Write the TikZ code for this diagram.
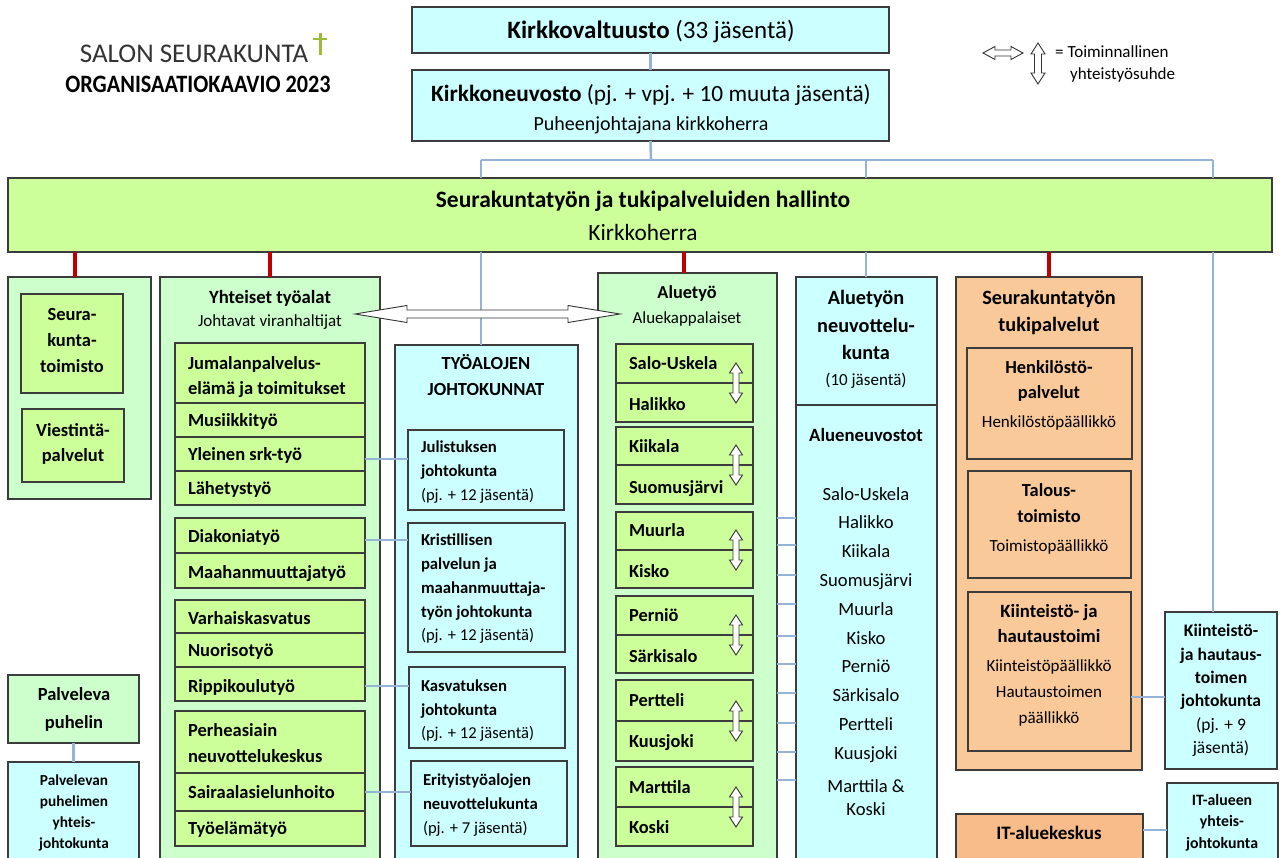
\documentclass[tikz,border=0pt]{standalone}
\usepackage{fontspec}
\setmainfont{Carlito}
\definecolor{cy}{HTML}{CCFFFF}
\definecolor{lime}{HTML}{CCFF99}
\definecolor{lgreen}{HTML}{CCFFCC}
\definecolor{orng}{HTML}{F9C99A}
\definecolor{orng2}{HTML}{F7BC8A}
\definecolor{bl}{HTML}{95B3D7}
\definecolor{rd}{HTML}{C00000}
\definecolor{bd}{HTML}{3C3C3C}
\definecolor{crossg}{HTML}{9BBB3B}
\newcommand\fs[1]{\fontsize{#1}{#1}\selectfont}
\tikzset{
 box/.style={draw=bd, line width=1.3pt, inner sep=0pt, outer sep=0pt, anchor=north west},
 bline/.style={draw=bl, line width=2.6pt},
 rline/.style={draw=rd, line width=4.5pt},
 bf/.style={execute at begin node=\bfseries},
 lft/.style={anchor=base west},
 arr/.style={draw=black!80, fill=white, line width=0.9pt, line join=miter}
}
% box: [opts]{name}{x1}{y1}{x2}{y2}
\newcommand\bx[6][]{\node[box,minimum width={#5-#3}, minimum height={#6-#4}, #1] (#2) at (#3,#4) {};}
% multi-line text: [opts]{name}{x}{y of first line centre}{line step}{size}{list}
\newcommand\ml[7][]{\foreach \t [count=\i] in {#7} {\node[inner sep=0pt, outer sep=0pt, anchor=base, font=\fs{#6}, #1] (#2\i) at (#3,{#4+(\i-1)*#5+0.33*#6}) {\t};}}
% horizontal double arrow: x1 x2 y halfbody halfhead headlen
\newcommand\harr[6]{\draw[arr] (#1,#3) -- ({#1+#6},{#3-#5}) -- ({#1+#6},{#3-#4}) -- ({#2-#6},{#3-#4}) -- ({#2-#6},{#3-#5}) -- (#2,#3) -- ({#2-#6},{#3+#5}) -- ({#2-#6},{#3+#4}) -- ({#1+#6},{#3+#4}) -- ({#1+#6},{#3+#5}) -- cycle;}
% vertical double arrow: x y1 y2 halfbody halfhead headlen
\newcommand\varr[6]{\draw[arr] (#1,#2) -- ({#1+#5},{#2+#6}) -- ({#1+#4},{#2+#6}) -- ({#1+#4},{#3-#6}) -- ({#1+#5},{#3-#6}) -- (#1,#3) -- ({#1-#5},{#3-#6}) -- ({#1-#4},{#3-#6}) -- ({#1-#4},{#2+#6}) -- ({#1-#5},{#2+#6}) -- cycle;}
\begin{document}
\begin{tikzpicture}[x=1pt,y=-1pt]
\fill[white] (0,0) rectangle (1280,858);
\useasboundingbox (0,0) rectangle (1280,858);
\clip (0,0) rectangle (1280,858);

% ---------- title ----------
\node[inner sep=0pt, anchor=base, font=\fs{27}, text=black!80] (title1) at (194,63) {SALON SEURAKUNTA};
\node[inner sep=0pt, anchor=base, font=\fs{25}\bfseries] (title2) at (198,93) {\scalebox{0.89}[1]{ORGANISAATIOKAAVIO 2023}};
\draw[crossg, line width=3pt] (320,33) -- (320,55);
\draw[crossg, line width=2.5pt] (313,39) -- (327,39);

% ---------- legend ----------
\harr{983}{1023}{53}{3}{6.5}{12}
\varr{1038}{43}{84}{3.5}{7}{11}
\node[inner sep=0pt, lft, font=\fs{17}] (leg1) at (1055,58) {= Toiminnallinen};
\node[inner sep=0pt, lft, font=\fs{17}] (leg2) at (1070,80) {yhteistyösuhde};

% ---------- top ----------
\bx[fill=cy]{kv}{412}{7}{889}{53}
\node[inner sep=0pt, anchor=base, font=\fs{25}] (kvt) at (651,39) {\textbf{Kirkkovaltuusto} (33 jäsentä)};
\bx[fill=cy]{kn}{412}{70}{889}{141}
\node[inner sep=0pt, anchor=base, font=\fs{23.3}] (knt) at (651,102) {\textbf{Kirkkoneuvosto} (pj. + vpj. + 10 muuta jäsentä)};
\node[inner sep=0pt, anchor=base, font=\fs{20}] (knt2) at (651,131) {Puheenjohtajana kirkkoherra};

\bx[fill=lime]{hdr}{8}{178}{1272}{252}
\node[inner sep=0pt, anchor=base, font=\fs{23.5}\bfseries] (hdrt) at (643,208) {Seurakuntatyön ja tukipalveluiden hallinto};
\node[inner sep=0pt, anchor=base, font=\fs{23.3}] (hdrt2) at (643,241) {Kirkkoherra};

\coordinate (bus) at (651,160);
\coordinate (busL) at (481,160);
\coordinate (busM) at (866,160);
\coordinate (busR) at (1213,160);
\draw[bline] (kv.south) -- (kn.north);
\draw[bline] (kn.south) -- (bus);
\draw[bline] (busL) -- (busR);
\draw[bline] (busL) -- (busL |- hdr.north);
\draw[bline] (busM) -- (busM |- hdr.north);
\draw[bline] (busR) -- (busR |- hdr.north);

% ---------- left column ----------
\bx[fill=lgreen]{lc}{8}{277}{151}{499}
\bx[fill=lime]{srk}{21}{294}{123}{393}
\ml[bf]{srkt}{72}{314}{26}{18.5}{Seura-,kunta-,toimisto}
\bx[fill=lime]{vp}{22}{409}{124}{482}
\ml[bf]{vpt}{73}{430}{25}{18.5}{Viestintä-,palvelut}

\bx[fill=lgreen]{pp}{8}{675}{139}{743}
\ml[bf]{ppt}{74}{694}{28}{18.5}{Palveleva,puhelin}
\bx[fill=cy]{ppj}{8}{762}{139}{880}
\ml[bf]{ppjt}{74}{780}{21}{15.3}{Palvelevan,puhelimen,yhteis-,johtokunta}

% ---------- Yhteiset tyoalat ----------
\bx[fill=lgreen]{yt}{160}{277}{380}{880}
\ml[bf]{ytt}{270}{297}{0}{18.7}{Yhteiset työalat}
\ml{ytv}{270}{321}{0}{17}{Johtavat viranhaltijat}
\bx[fill=lime]{r1}{175}{343}{365}{403}
\bx[fill=lime]{r2}{175}{403}{365}{437}
\bx[fill=lime]{r3}{175}{437}{365}{471}
\bx[fill=lime]{r4}{175}{471}{365}{505}
\bx[fill=lime]{r5}{175}{518}{365}{553}
\bx[fill=lime]{r6}{175}{553}{365}{588}
\bx[fill=lime]{r7}{175}{600}{365}{633}
\bx[fill=lime]{r8}{175}{633}{365}{667}
\bx[fill=lime]{r9}{175}{667}{365}{701}
\bx[fill=lime]{r10}{175}{711}{365}{773}
\bx[fill=lime]{r11}{175}{773}{365}{811}
\bx[fill=lime]{r12}{175}{811}{365}{846}
\ml[bf,lft]{r1t}{188}{363}{25}{18.5}{Jumalanpalvelus-,elämä ja toimitukset}
\ml[bf,lft]{r2t}{188}{420}{0}{18.5}{Musiikkityö}
\ml[bf,lft]{r3t}{188}{454}{0}{18.5}{Yleinen srk-työ}
\ml[bf,lft]{r4t}{188}{488}{0}{18.5}{Lähetystyö}
\ml[bf,lft]{r5t}{188}{536}{0}{18.5}{Diakoniatyö}
\ml[bf,lft]{r6t}{188}{572}{0}{18.5}{Maahanmuuttajatyö}
\ml[bf,lft]{r7t}{188}{618}{0}{18.5}{Varhaiskasvatus}
\ml[bf,lft]{r8t}{188}{650}{0}{18.5}{Nuorisotyö}
\ml[bf,lft]{r9t}{188}{686}{0}{18.5}{Rippikoulutyö}
\ml[bf,lft]{r10t}{188}{730}{26}{18.5}{Perheasiain,neuvottelukeskus}
\ml[bf,lft]{r11t}{188}{792}{0}{18.5}{Sairaalasielunhoito}
\ml[bf,lft]{r12t}{188}{828}{0}{18.5}{Työelämätyö}

% ---------- Tyoalojen johtokunnat ----------
\bx[fill=cy]{tj}{395}{345}{578}{880}
\ml[bf]{tjt}{486}{363}{26}{18.5}{TYÖALOJEN,JOHTOKUNNAT}
\bx[fill=cy]{jb1}{408}{430}{564}{510}
\ml[bf,lft]{jb1t}{421}{447}{24}{16.7}{Julistuksen,johtokunta}
\ml[lft]{jb1s}{421}{495}{0}{16.6}{(pj. + 12 jäsentä)}
\bx[fill=cy]{jb2}{408}{523}{565}{652}
\ml[bf,lft]{jb2t}{421}{540}{24}{16.7}{Kristillisen,palvelun ja,maahanmuuttaja-,työn johtokunta}
\ml[lft]{jb2s}{421}{635}{0}{16.6}{(pj. + 12 jäsentä)}
\bx[fill=cy]{jb3}{409}{667}{565}{748}
\ml[bf,lft]{jb3t}{421}{686}{24}{16.7}{Kasvatuksen,johtokunta}
\ml[lft]{jb3s}{421}{733}{0}{16.6}{(pj. + 12 jäsentä)}
\bx[fill=cy]{jb4}{411}{761}{567}{846}
\ml[bf,lft]{jb4t}{423}{780}{24}{16.7}{Erityistyöalojen,neuvottelukunta}
\ml[lft]{jb4s}{423}{828}{0}{16.6}{(pj. + 7 jäsentä)}

% ---------- Aluetyo ----------
\bx[fill=lgreen]{at}{598}{273}{777}{880}
\ml[bf]{att}{687}{292}{0}{18.3}{Aluetyö}
\ml{ats}{687}{318}{0}{16.9}{Aluekappalaiset}
\bx[fill=lime]{pa1}{616}{344}{753}{383}
\bx[fill=lime]{pb1}{616}{383}{753}{422}
\bx[fill=lime]{pa2}{616}{427}{753}{465}
\bx[fill=lime]{pb2}{616}{465}{753}{504}
\bx[fill=lime]{pa3}{616}{512}{753}{550}
\bx[fill=lime]{pb3}{616}{550}{753}{588}
\bx[fill=lime]{pa4}{616}{596}{753}{635}
\bx[fill=lime]{pb4}{616}{635}{753}{673}
\bx[fill=lime]{pa5}{616}{680}{753}{721}
\bx[fill=lime]{pb5}{616}{721}{753}{761}
\bx[fill=lime]{pa6}{616}{767}{753}{807}
\bx[fill=lime]{pb6}{616}{807}{753}{846}
\ml[bf,lft]{pa1t}{629}{363}{41}{18.4}{Salo-Uskela,Halikko}
\ml[bf,lft]{pa2t}{629}{446}{41}{18.4}{Kiikala,Suomusjärvi}
\ml[bf,lft]{pa3t}{629}{530}{41}{18.4}{Muurla,Kisko}
\ml[bf,lft]{pa4t}{629}{615}{41}{18.4}{Perniö,Särkisalo}
\ml[bf,lft]{pa5t}{629}{700}{41}{18.4}{Pertteli,Kuusjoki}
\ml[bf,lft]{pa6t}{629}{787}{40}{18.4}{Marttila,Koski}
\varr{736}{363}{403}{3}{6.5}{10}
\varr{736}{445}{485}{3}{6.5}{10}
\varr{736}{530}{570}{3}{6.5}{10}
\varr{736}{615}{655}{3}{6.5}{10}
\varr{736}{701}{741}{3}{6.5}{10}
\varr{736}{787}{827}{3}{6.5}{10}

% ---------- Aluetyon neuvottelukunta ----------
\bx[fill=cy]{ank}{796}{277}{937}{405}
\bx[fill=cy]{anv}{796}{405}{937}{880}
\ml[bf]{ankt}{866}{298}{27.5}{20.3}{Aluetyön,neuvottelu-,kunta}
\ml{anks}{866}{380}{0}{17}{(10 jäsentä)}
\ml[bf]{anvt}{866}{435}{0}{18.7}{Alueneuvostot}
\ml{anvl}{866}{494}{28.8}{18.6}{Salo-Uskela,Halikko,Kiikala,Suomusjärvi,Muurla,Kisko,Perniö,Särkisalo,Pertteli,Kuusjoki}
\ml{anvm}{866}{786}{23}{18.6}{Marttila \&,Koski}

% ---------- Tukipalvelut ----------
\bx[fill=orng]{tp}{956}{277}{1142}{770}
\ml[bf]{tpt}{1049}{298}{27}{20.3}{Seurakuntatyön,tukipalvelut}
\bx[fill=orng]{hp}{967}{348}{1132}{459}
\ml[bf]{hpt}{1049}{367}{25}{18.4}{Henkilöstö-,palvelut}
\ml{hps}{1049}{422}{0}{17}{Henkilöstöpäällikkö}
\bx[fill=orng]{ta}{968}{471}{1131}{578}
\ml[bf]{tat}{1049}{490}{26}{18.4}{Talous-,toimisto}
\ml{tas}{1049}{546}{0}{17}{Toimistopäällikkö}
\bx[fill=orng]{kh}{968}{592}{1131}{751}
\ml[bf]{kht}{1049}{611}{25}{18.7}{Kiinteistö- ja,hautaustoimi}
\ml{khs}{1049}{666}{26}{17}{Kiinteistöpäällikkö,Hautaustoimen,päällikkö}

\bx[fill=cy]{khj}{1165}{612}{1277}{769}
\ml[bf]{khjt}{1221}{631}{23.3}{17.6}{Kiinteistö-,ja hautaus-,toimen,johtokunta}
\ml{khjs}{1221}{725}{23}{17.5}{{(pj. + 9},{jäsentä)}}

\bx[fill=orng2]{it}{956}{814}{1143}{880}
\ml[bf]{itt}{1049}{833}{0}{19}{IT-aluekeskus}
\bx[fill=cy]{itj}{1167}{783}{1278}{880}
\ml[bf]{itjt}{1222}{800}{21.5}{15.8}{IT-alueen,yhteis-,johtokunta}

% ---------- connectors ----------
\draw[rline] (hdr.south -| 75,0) -- (lc.north -| 75,0);
\draw[rline] (hdr.south -| yt.north) -- (yt.north);
\draw[rline] (hdr.south -| 684,0) -- (at.north -| 684,0);
\draw[rline] (hdr.south -| tp.north) -- (tp.north);

\draw[bline] (hdr.south -| busL) -- (tj.north -| busL);
\draw[bline] (hdr.south -| busM) -- (ank.north -| busM);
\draw[bline] (hdr.south -| busR) -- (khj.north -| busR);

\draw[bline] (pp.south) -- (ppj.north);
\draw[bline] (r3.east |- 0,459) -- (jb1.west |- 0,459);
\draw[bline] (r5.east |- 0,540) -- (jb2.west |- 0,540);
\draw[bline] (r9.east |- 0,686) -- (jb3.west |- 0,686);
\draw[bline] (r11.east |- 0,792) -- (jb4.west |- 0,792);
\foreach \y in {518,545,575,604,636,664,693,723,752,780}
  \draw[bline] (at.east |- 0,\y) -- (anv.west |- 0,\y);
\draw[bline] (kh.east |- 0,697) -- (khj.west |- 0,697);
\draw[bline] (it.east |- 0,830) -- (itj.west |- 0,830);

% big horizontal double arrow
\harr{355}{620}{314}{4}{8.5}{52}
\end{tikzpicture}
\end{document}
